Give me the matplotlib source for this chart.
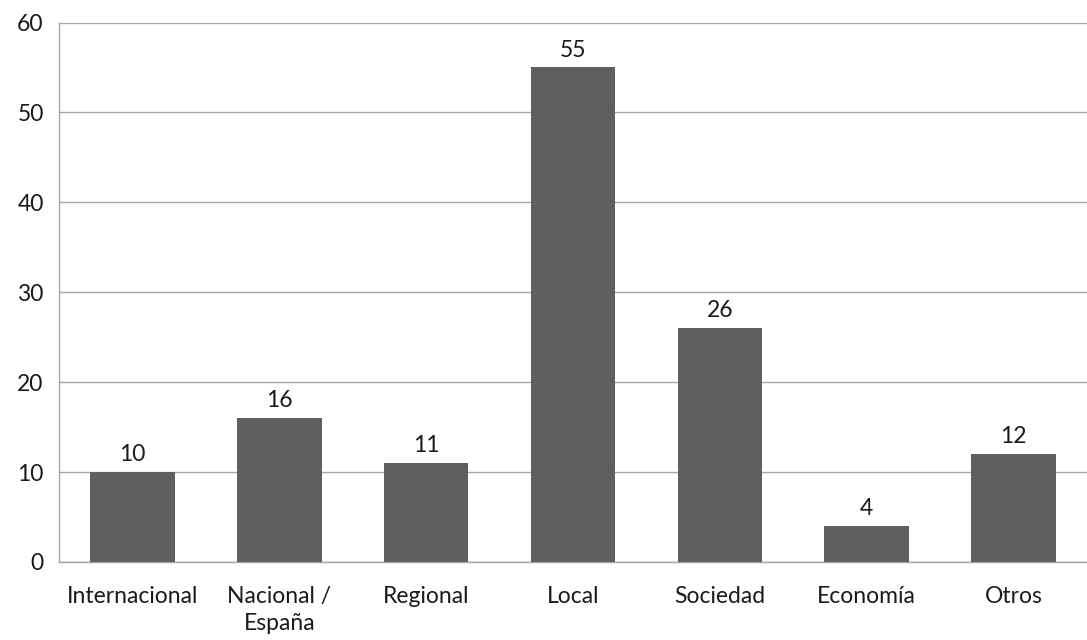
import matplotlib
matplotlib.use("Agg")
import matplotlib.pyplot as plt

categories = ["Internacional", "Nacional /\nEspaña", "Regional", "Local", "Sociedad", "Economía", "Otros"]
values = [10, 16, 11, 55, 26, 4, 12]
y_ticks = [0, 10, 20, 30, 40, 50, 60]

plt.rcParams["font.family"] = ["Lato", "DejaVu Sans"]

fig = plt.figure(figsize=(10.87, 6.40), dpi=100)
ax = fig.add_axes([59 / 1087, 1 - 562 / 640, 1 - 59 / 1087, (562 - 22.5) / 640])

x = list(range(len(categories)))
bars = ax.bar(x, values, width=0.575, color="#5f5f5f", zorder=3)

for xi, v in zip(x, values):
    ax.annotate(str(v), (xi, v), xytext=(0, 5), textcoords="offset points",
                ha="center", va="bottom", fontsize=16.5, color="#1a1a1a")

ax.set_xlim(-0.5, len(categories) - 0.5)
ax.set_ylim(0, 60)
ax.set_yticks(y_ticks)
ax.set_xticks(x)
ax.set_xticklabels(categories, fontsize=16.5, color="#1a1a1a", linespacing=1.35)
ax.tick_params(axis="y", labelsize=16.5, colors="#1a1a1a", length=0, pad=11)
ax.tick_params(axis="x", length=0, pad=17)

ax.yaxis.grid(True, color="#a6a6a6", linewidth=1.0, zorder=0)
for side in ["top", "right"]:
    ax.spines[side].set_visible(False)
ax.spines["left"].set_color("#a6a6a6")
ax.spines["bottom"].set_color("#a6a6a6")
ax.spines["left"].set_linewidth(1.0)
ax.spines["bottom"].set_linewidth(1.0)

fig.savefig("out.png", dpi=100)
